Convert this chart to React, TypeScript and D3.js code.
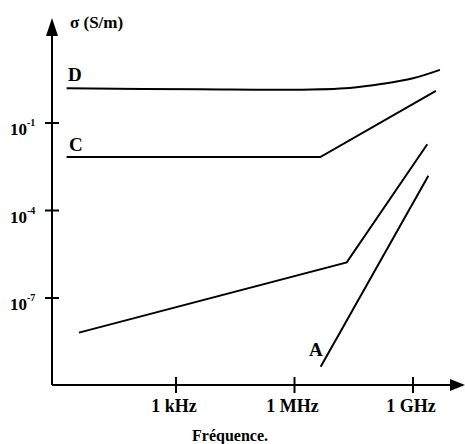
import * as d3 from "d3";

// frequencies in Hz, conductivities in S/m
const freqD = [1.7, 4e3, 9e5, 2.5e7, 1.7e8, 1e9, 4.8e9];
const sigmaD = [1.55, 1.43, 1.38, 1.6, 2.2, 3.4, 6.6];
const freqC = [1.7, 4.5e6, 3.8e9];
const sigmaC = [6.8e-3, 6.8e-3, 1.26];
const freqB = [3.5, 2.1e7, 2.3e9];
const sigmaB = [6.5e-9, 1.66e-6, 1.86e-2];
const freqA = [4.6e6, 2.45e9];
const sigmaA = [4.4e-10, 1.55e-3];

const xTicks = [1e3, 1e6, 1e9];
const xTickLabels = ["1 kHz", "1 MHz", "1 GHz"];
const yTicks = [1e-1, 1e-4, 1e-7];
const yTickExp = ["-1", "-4", "-7"];

const W = 465;
const H = 444;
const font = "Liberation Serif";

export default function App() {
  const x = d3.scaleLog().domain([1e3, 1e9]).range([176, 413]);
  const y = d3.scaleLog().domain([1e-7, 1e-1]).range([298, 123]);

  const x0 = 52; // y axis position
  const y0 = 385; // x axis position

  const mk = (fs: number[], ss: number[], smooth = false) => {
    const pts = fs.map((f, i) => [f, ss[i]] as [number, number]);
    const line = d3
      .line<[number, number]>()
      .x((d) => x(d[0]))
      .y((d) => y(d[1]));
    if (smooth) line.curve(d3.curveCatmullRom.alpha(0.5));
    return line(pts) || "";
  };

  const series = [
    { d: mk(freqD, sigmaD, true) },
    { d: mk(freqC, sigmaC) },
    { d: mk(freqB, sigmaB) },
    { d: mk(freqA, sigmaA) },
  ];

  return (
    <svg
      width={W}
      height={H}
      style={{ position: "absolute", left: 0, top: 0, background: "#fff" }}
      fontFamily={font}
      fontWeight="bold"
    >
      {/* axes */}
      <line x1={x0} y1={y0} x2={x0} y2={30} stroke="#000" strokeWidth={2} />
      <path d={`M${x0 - 6},36 L${x0},18 L${x0 + 6},36 Z`} fill="#000" />
      <line x1={x0} y1={y0} x2={452} y2={y0} stroke="#000" strokeWidth={2} />
      <path d={`M450,${y0 - 6} L465,${y0} L450,${y0 + 6} Z`} fill="#000" />

      {yTicks.map((t, i) => (
        <g key={"y" + i}>
          <line x1={x0 - 7} x2={x0 + 7} y1={y(t)} y2={y(t)} stroke="#000" strokeWidth={2} />
          <text x={10} y={y(t) + 12} fontSize={17} fill="#000">
            10
            <tspan fontSize={10} dy={-9}>
              {yTickExp[i]}
            </tspan>
          </text>
        </g>
      ))}

      {xTicks.map((t, i) => (
        <g key={"x" + i}>
          <line x1={x(t)} x2={x(t)} y1={y0 - 8} y2={y0 + 8} stroke="#000" strokeWidth={2} />
          <text x={x(t) - 2} y={412} fontSize={18} textAnchor="middle" fill="#000">
            {xTickLabels[i]}
          </text>
        </g>
      ))}

      <text x={70} y={28} fontSize={17} fill="#000">σ (S/m)</text>
      <text x={230} y={441} fontSize={16} textAnchor="middle" fill="#000">Fréquence.</text>

      {series.map((s, i) => (
        <path key={i} d={s.d} fill="none" stroke="#000" strokeWidth={2} />
      ))}

      <text x={68} y={81} fontSize={19} fill="#000">D</text>
      <text x={69} y={151} fontSize={19} fill="#000">C</text>
      <text x={309} y={356} fontSize={19} fill="#000">A</text>
    </svg>
  );
}
